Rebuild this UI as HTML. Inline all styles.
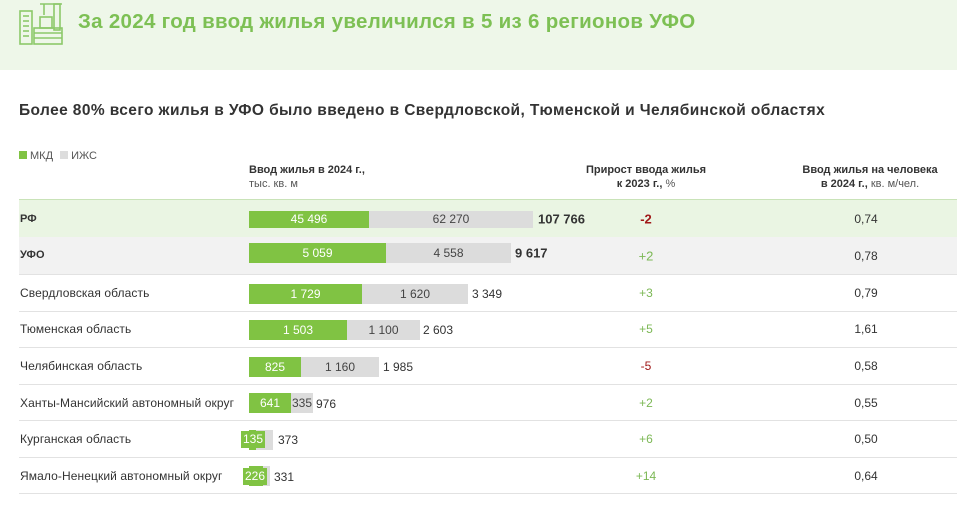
<!DOCTYPE html>
<html><head><meta charset="utf-8"><style>
body{margin:0;width:957px;height:512px;background:#fff;position:relative;overflow:hidden;font-family:"Liberation Sans","DejaVu Sans",sans-serif;color:#333}
.a{position:absolute;white-space:nowrap}
.hdr{position:absolute;left:0;top:0;width:957px;height:70px;background:#eef7e9}
.row{position:absolute;left:19px;width:938px;border-bottom:1px solid #e2e2e2}
.lab{position:absolute;left:20px;font-size:12px;transform:translateY(-50%);letter-spacing:0.1px}
.g{position:absolute;background:#80c343;color:#fff;font-size:12px;text-align:center}
.s{position:absolute;background:#dcdcdc;color:#444;font-size:12px;text-align:center}
.t{position:absolute;font-size:12px;transform:translateY(-50%)}
.p{position:absolute;left:600px;width:92px;text-align:center;font-size:12px;transform:translateY(-50%);color:#7cb855}
.v{position:absolute;left:820px;width:92px;text-align:center;font-size:12px;transform:translateY(-50%)}
</style></head><body>
<div class="hdr"></div>
<svg class="a" style="left:18px;top:1px" width="46" height="44" viewBox="0 0 46 44" fill="none" stroke="#8cc86a" stroke-width="1.6">
<rect x="2" y="10" width="12" height="33"/><line x1="5" y1="15" x2="11" y2="15"/><line x1="5" y1="20" x2="11" y2="20"/><line x1="5" y1="25" x2="11" y2="25"/><line x1="5" y1="30" x2="11" y2="30"/><line x1="5" y1="35" x2="11" y2="35"/>
<line x1="22" y1="3" x2="44" y2="3"/><rect x="36" y="3" width="6" height="26"/><line x1="26" y1="3" x2="26" y2="14"/>
<rect x="16" y="27" width="28" height="16"/><line x1="16" y1="32" x2="44" y2="32"/><line x1="16" y1="37" x2="44" y2="37"/><rect x="22" y="16" width="12" height="11"/></svg>
<div class="a" style="left:78px;top:10px;font-size:20.5px;font-weight:bold;color:#7dc054;letter-spacing:0.3px">За 2024 год ввод жилья увеличился в 5 из 6 регионов УФО</div>
<div class="a" style="left:19px;top:102px;font-size:15.5px;font-weight:bold;color:#333;letter-spacing:0.4px">Более 80% всего жилья в УФО было введено в Свердловской, Тюменской и Челябинской областях</div>
<div class="a" style="left:19px;top:150px;font-size:11px;color:#555"><span style="display:inline-block;width:8px;height:8px;background:#80c343;margin-right:3px"></span>МКД <span style="display:inline-block;width:8px;height:8px;background:#ddd;margin:0 3px 0 4px"></span>ИЖС</div>
<div class="a" style="left:249px;top:163px;font-size:11px;line-height:14px"><b>Ввод жилья в 2024 г.,</b><br><span style="color:#555">тыс. кв. м</span></div>
<div class="a" style="left:560px;top:163px;width:172px;text-align:center;font-size:11px;line-height:14px"><b>Прирост ввода жилья<br>к 2023 г., </b><span style="color:#555">%</span></div>
<div class="a" style="left:770px;top:163px;width:200px;text-align:center;font-size:11px;line-height:14px"><b>Ввод жилья на человека<br>в 2024 г., </b><span style="color:#555">кв. м/чел.</span></div>
<div class="a" style="left:19px;top:199px;width:938px;height:38px;background:#eaf5e3;border-top:1px solid #c9e3b8"></div>
<div class="a" style="left:19px;top:237px;width:938px;height:37px;background:#f2f2f2;border-bottom:1px solid #e2e2e2"></div>
<div class="row" style="top:274px;height:37px"></div>
<div class="row" style="top:311px;height:36px"></div>
<div class="row" style="top:348px;height:36px"></div>
<div class="row" style="top:385px;height:35px"></div>
<div class="row" style="top:421px;height:36px"></div>
<div class="row" style="top:458px;height:35px"></div>

<div class="lab" style="top:219px;font-weight:bold;font-size:11px">РФ</div>
<div class="g" style="left:249px;top:211px;width:120px;height:17px;line-height:17px">45 496</div>
<div class="s" style="left:369px;top:211px;width:164px;height:17px;line-height:17px">62 270</div>
<div class="t" style="left:538px;top:219px;font-weight:bold;font-size:13px">107 766</div>
<div class="p" style="top:219px;color:#a01818;font-weight:bold;font-size:13px">-2</div>
<div class="v" style="top:219px">0,74</div>

<div class="lab" style="top:255px;font-weight:bold;font-size:11px">УФО</div>
<div class="g" style="left:249px;top:243px;width:137px;height:20px;line-height:20px">5 059</div>
<div class="s" style="left:386px;top:243px;width:125px;height:20px;line-height:20px">4 558</div>
<div class="t" style="left:515px;top:253px;font-weight:bold;font-size:13px">9 617</div>
<div class="p" style="top:256px;font-size:13px">+2</div>
<div class="v" style="top:256px">0,78</div>

<div class="lab" style="top:293px">Свердловская область</div>
<div class="g" style="left:249px;top:284px;width:113px;height:20px;line-height:20px">1 729</div>
<div class="s" style="left:362px;top:284px;width:106px;height:20px;line-height:20px">1 620</div>
<div class="t" style="left:472px;top:294px">3 349</div>
<div class="p" style="top:293px">+3</div>
<div class="v" style="top:293px">0,79</div>

<div class="lab" style="top:329px">Тюменская область</div>
<div class="g" style="left:249px;top:320px;width:98px;height:20px;line-height:20px">1 503</div>
<div class="s" style="left:347px;top:320px;width:73px;height:20px;line-height:20px">1 100</div>
<div class="t" style="left:423px;top:330px">2 603</div>
<div class="p" style="top:329px">+5</div>
<div class="v" style="top:329px">1,61</div>

<div class="lab" style="top:366px">Челябинская область</div>
<div class="g" style="left:249px;top:357px;width:52px;height:20px;line-height:20px">825</div>
<div class="s" style="left:301px;top:357px;width:78px;height:20px;line-height:20px">1 160</div>
<div class="t" style="left:383px;top:367px">1 985</div>
<div class="p" style="top:366px;color:#a01818">-5</div>
<div class="v" style="top:366px">0,58</div>

<div class="lab" style="top:403px">Ханты-Мансийский автономный округ</div>
<div class="g" style="left:249px;top:393px;width:42px;height:20px;line-height:20px">641</div>
<div class="s" style="left:291px;top:393px;width:22px;height:20px;line-height:20px;overflow:visible">335</div>
<div class="t" style="left:316px;top:404px">976</div>
<div class="p" style="top:403px">+2</div>
<div class="v" style="top:403px">0,55</div>

<div class="lab" style="top:439px">Курганская область</div>
<div class="s" style="left:249px;top:430px;width:24px;height:20px"></div>
<div class="g" style="left:249px;top:430px;width:7px;height:20px"></div>
<div class="g" style="left:241px;top:431px;width:24px;height:17px;line-height:17px">135</div>
<div class="t" style="left:278px;top:440px">373</div>
<div class="p" style="top:439px">+6</div>
<div class="v" style="top:439px">0,50</div>

<div class="lab" style="top:476px">Ямало-Ненецкий автономный округ</div>
<div class="s" style="left:249px;top:466px;width:21px;height:20px"></div>
<div class="g" style="left:249px;top:466px;width:14px;height:20px"></div>
<div class="g" style="left:243px;top:468px;width:24px;height:17px;line-height:17px">226</div>
<div class="t" style="left:274px;top:477px">331</div>
<div class="p" style="top:476px">+14</div>
<div class="v" style="top:476px">0,64</div>
</body></html>
